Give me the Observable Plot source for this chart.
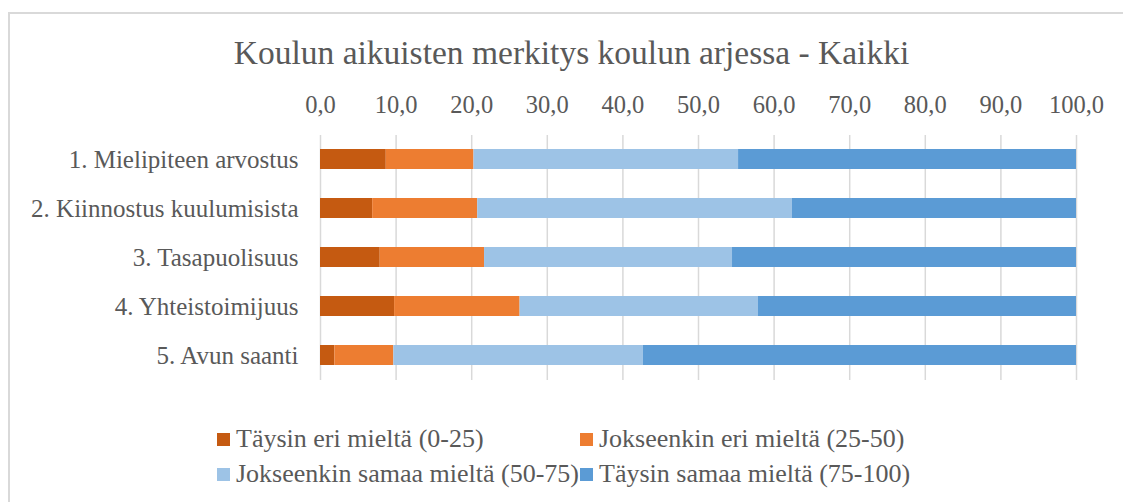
<!DOCTYPE html>
<html>
<head>
<meta charset="utf-8">
<script src="https://cdn.jsdelivr.net/npm/d3@7"></script>
<script src="https://cdn.jsdelivr.net/npm/@observablehq/plot@0.6"></script>
<style>
  html, body { margin: 0; padding: 0; background: #fff; }
  #wrap { position: relative; width: 1123px; height: 502px; overflow: hidden; font-family: "Liberation Serif", serif; color: #595959; }
  #frame { position: absolute; left: 8px; top: 12px; width: 1200px; height: 600px; border-left: 2px solid #d9d9d9; border-top: 2px solid #d9d9d9; }
  #title { position: absolute; left: 0; top: 31px; width: 1143px; text-align: center; font-size: 33.5px; line-height: 44px; color: #595959; }
  #chart { position: absolute; left: 0; top: 80px; }
  .leg { position: absolute; display: flex; align-items: center; font-size: 26px; line-height: 30px; white-space: nowrap; }
  .sw { width: 13px; height: 13px; margin-right: 6px; flex: none; }
</style>
</head>
<body>
<div id="wrap">
  <div id="frame"></div>
  <div id="title"></div>
  <div id="chart"></div>
  <div id="legend"></div>
</div>
<script>
const titleText = "Koulun aikuisten merkitys koulun arjessa - Kaikki";
const categories = ["1. Mielipiteen arvostus", "2. Kiinnostus kuulumisista", "3. Tasapuolisuus", "4. Yhteistoimijuus", "5. Avun saanti"];
const seriesNames = ["Täysin eri mieltä (0-25)", "Jokseenkin eri mieltä (25-50)", "Jokseenkin samaa mieltä (50-75)", "Täysin samaa mieltä (75-100)"];
const taysinEri = [8.7, 6.9, 7.9, 9.8, 1.9];
const jokseenkinEri = [11.6, 13.9, 13.8, 16.6, 7.8];
const jokseenkinSamaa = [35.0, 41.6, 32.8, 31.5, 33.0];
const taysinSamaa = [44.7, 37.6, 45.5, 42.1, 57.3];
const xTicks = [0, 10, 20, 30, 40, 50, 60, 70, 80, 90, 100];
const colors = ["#C55A11", "#ED7D31", "#9DC3E6", "#5B9BD5"];

const seriesValues = [taysinEri, jokseenkinEri, jokseenkinSamaa, taysinSamaa];
const data = [];
categories.forEach((c, i) => {
  seriesNames.forEach((s, j) => data.push({category: c, series: s, value: seriesValues[j][i]}));
});

document.getElementById("title").textContent = titleText;

const plot = Plot.plot({
  width: 1123,
  height: 340,
  marginLeft: 320,
  marginRight: 47,
  marginTop: 55,
  marginBottom: 40,
  style: {fontFamily: "'Liberation Serif', serif", fontSize: "24px", color: "#595959", background: "transparent", overflow: "visible"},
  x: {domain: [0, 100], ticks: xTicks, label: null},
  y: {domain: categories, paddingInner: 0.59, paddingOuter: 0.295, label: null},
  color: {domain: seriesNames, range: colors},
  marks: [
    Plot.gridX(xTicks, {stroke: "#d9d9d9", strokeOpacity: 1, strokeWidth: 1.5}),
    Plot.barX(data, Plot.stackX({x: "value", y: "category", fill: "series"})),
    Plot.axisX(xTicks, {anchor: "top", tickSize: 0, tickPadding: 23, fill: "#595959", fontSize: 24.5, tickFormat: d => d.toFixed(1).replace(".", ","), label: null}),
    Plot.axisY({tickSize: 0, tickPadding: 22, fill: "#595959", fontSize: 25, label: null})
  ]
});
document.getElementById("chart").appendChild(plot);

const legendPos = [[217, 439], [580, 439], [217, 474], [580, 474]];
const legend = document.getElementById("legend");
seriesNames.forEach((s, i) => {
  const item = document.createElement("div");
  item.className = "leg";
  item.style.left = legendPos[i][0] + "px";
  item.style.top = (legendPos[i][1] - 15) + "px";
  const sw = document.createElement("div");
  sw.className = "sw";
  sw.style.background = colors[i];
  const t = document.createElement("span");
  t.textContent = s;
  item.appendChild(sw);
  item.appendChild(t);
  legend.appendChild(item);
});
</script>
</body>
</html>
